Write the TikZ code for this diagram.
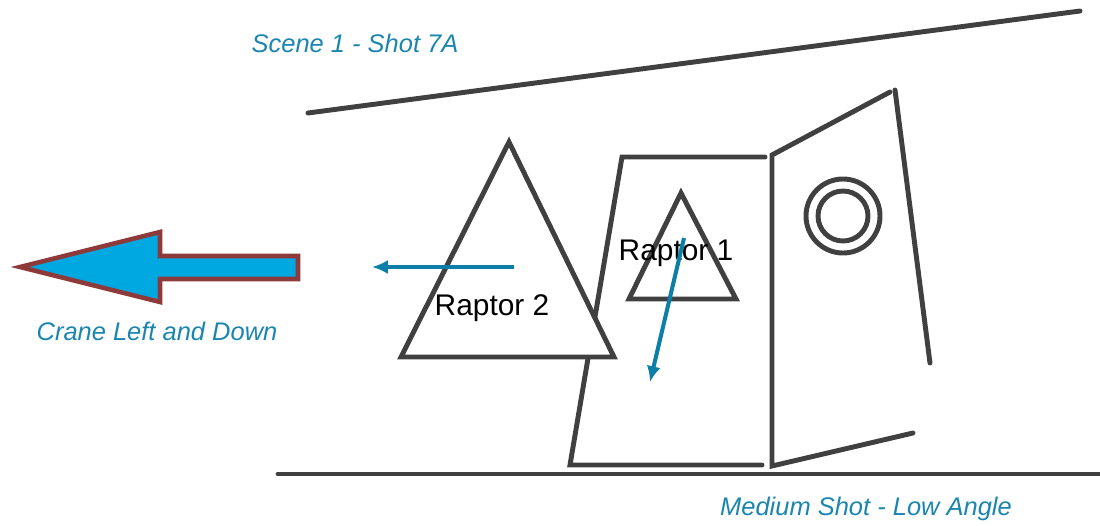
\documentclass[tikz,border=0pt]{standalone}
\usepackage{fontspec}
\setmainfont{Liberation Sans}
\usepackage{xcolor}
\usetikzlibrary{arrows.meta}
\definecolor{setgray}{HTML}{404040}
\definecolor{noteteal}{HTML}{1A86B0}
\definecolor{moveteal}{HTML}{0C7FA8}
\definecolor{cranefill}{HTML}{00A8E2}
\definecolor{craneedge}{HTML}{8E3A3A}

\begin{document}
\begin{tikzpicture}[x=0.02cm,y=-0.02cm,
    setline/.style={setgray,line width=2.8pt,line cap=round,line join=miter},
    note/.style={text=noteteal,font=\fontsize{14.5}{17}\selectfont\itshape,inner sep=0pt},
    raptor/.style={font=\fontsize{17}{20}\selectfont,inner sep=0pt},
    move/.style={moveteal,line width=2.3pt,-{Latex[length=9pt,width=8pt]}}]
            \useasboundingbox (0,0) rectangle (1100,525);

            % Draw ceiling and floor
            \draw[setline] (308,113) -- (1080,11);
            \draw[setline] (278,474) -- (1100,474);

            % Draw door frame
            \draw[setline] (765,157) -- (622,157) -- (570,465) -- (762,465);

            % Draw open door
            \draw[setline] (890,92) -- (772,155) -- (772,466) -- (913,433);
            \draw[setline] (895,90) -- (930,363);
            \draw[setline] (843,216) circle (37);
            \draw[setline] (843,216) circle (25);

            % Draw raptors
            \draw[setline,fill=white] (509,142) -- (614,357) -- (401,357) -- cycle;
            \draw[setline,fill=white] (681,193) -- (736,299) -- (629,299) -- cycle;
            \node[raptor] (raptor2) at (492,308) {Raptor 2};
            \node[raptor] (raptor1) at (676,253) {Raptor 1};

            % Mark raptor moves
            \coordinate (r2from) at (514,267);
            \coordinate (r2to) at (372,267);
            \coordinate (r1from) at (684,238);
            \coordinate (r1to) at (650,382);
            \draw[move] (r2from) -- (r2to);
            \draw[move] (r1from) -- (r1to);

            % Draw crane arrow
            \draw[craneedge,line width=2.6pt,fill=cranefill,line join=miter]
                (298,256) -- (160,256) -- (160,232) -- (20,267) -- (160,302)
                -- (160,279) -- (298,279) -- cycle;

            % Write notes
            \node[note] (scene) at (355,43) {Scene 1 - Shot 7A};
            \node[note] (crane) at (157,331) {Crane Left and Down};
            \node[note] (shot) at (866,509) {Medium Shot - Low Angle};
        \end{tikzpicture}
\end{document}
